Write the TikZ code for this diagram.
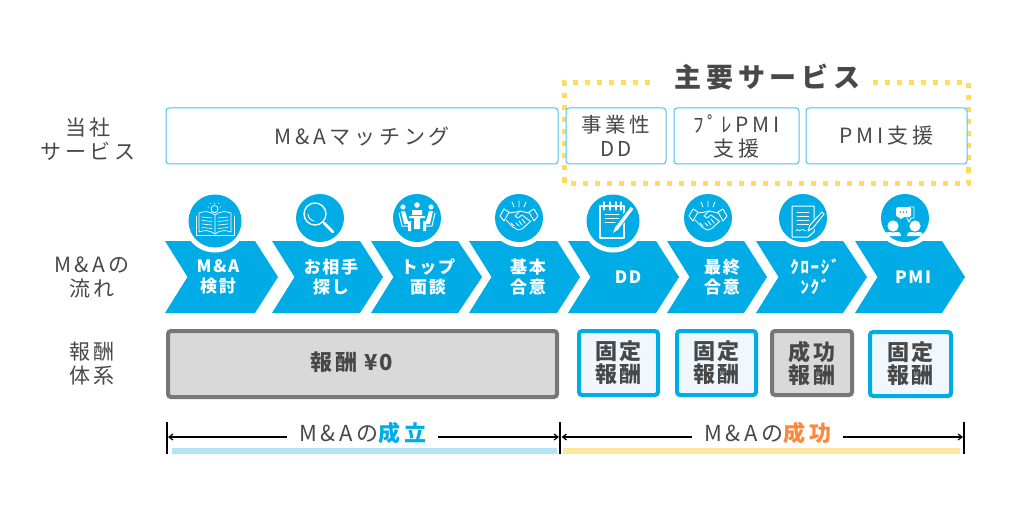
\documentclass[tikz,border=0pt]{standalone}
\usepackage{fontspec}
\usetikzlibrary{arrows.meta}
\setmainfont{Noto Sans CJK JP}
\newfontfamily\lsa[LetterSpace=10]{Noto Sans CJK JP}
\newfontfamily\lsb[LetterSpace=18]{Noto Sans CJK JP}
\definecolor{ink}{HTML}{484848}
\definecolor{skyb}{HTML}{00ACE6}
\definecolor{thin}{HTML}{4FC3EE}
\definecolor{dots}{HTML}{FFDC5A}
\definecolor{greyb}{HTML}{777777}
\definecolor{greyf}{HTML}{D9D9D9}
\definecolor{palef}{HTML}{F0F8FE}
\definecolor{lblue}{HTML}{B3E5F7}
\definecolor{lyell}{HTML}{FFE89C}
\definecolor{orng}{HTML}{F8883C}
\newcommand{\fs}[1]{\fontsize{#1}{#1}\selectfont}
\tikzset{
 x=1pt,y=-1pt,
 svc/.style={draw=thin,line width=1pt,rounded corners=3pt,fill=white,text=ink,align=center,inner sep=0pt,minimum height=56pt,font=\lsb\fs{21}},
 side/.style={text=ink,align=center,inner sep=0pt,font=\lsb\fs{21}},
 chevtxt/.style={text=white,align=center,inner sep=0pt,font=\lsa\bfseries\fs{17}},
 bluefee/.style={draw=skyb,fill=palef,line width=4pt,rounded corners=3pt,text=ink,align=center,inner sep=0pt,font=\lsa\bfseries\fs{22}},
 greyfee/.style={draw=greyb,fill=greyf,line width=4pt,rounded corners=3pt,text=ink,align=center,inner sep=0pt,font=\lsa\bfseries\fs{22}},
 dotline/.style={draw=dots,line width=5pt,dash pattern=on 5pt off 7pt},
 dimr/.style={draw=black,line width=1.2pt,-{Straight Barb[length=4pt,width=6pt]}},
 tick/.style={draw=black,line width=1.2pt},
 ico/.style={draw=white,line width=.9pt,line cap=round,line join=round},
}
\newcommand{\chev}[3]{% left, right, tip
 \fill[skyb] (#1,241) -- (#2,241) -- (#3,277) -- (#2,313) -- (#1,313) -- ({#1+22.5},277) -- cycle;}
\newcommand{\badge}[3]{% cx, cy, r
 \fill[white] (#1,#2) circle ({#3+5});
 \fill[skyb] (#1,#2) circle (#3);}
\newcommand{\handshake}{%
 \draw[ico] (-19,-2) -- (-15,-9) -- (-10,-6) -- (-15,3) -- cycle;
 \draw[ico] (19,-2) -- (15,-9) -- (10,-6) -- (15,3) -- cycle;
 \draw[ico] (-10,-5) -- (-3,-6) -- (1,-7) -- (10,-5);
 \draw[ico] (-13,2) -- (-6,9) -- (-1,12) -- (3,11) -- (12,3);
 \draw[ico] (1,-7) -- (-4,-2) -- (-1,0) -- (3,-3) -- (11,3);
 \draw[ico] (-3,5) -- (0,8) (0,3) -- (3,7) (3,1) -- (6,5) (-8,5)--(-5,8);
 \draw[ico] (0,-11) -- (0,-17) (-5,-11) -- (-7,-16) (5,-11) -- (7,-16);
}
\begin{document}
\begin{tikzpicture}
\useasboundingbox (0,0) rectangle (1024,513);
\fill[white] (0,0) rectangle (1024,513);

% dotted frame
\coordinate (fa) at (650,83); \coordinate (fb) at (564.5,83); \coordinate (fc) at (564.5,183);
\coordinate (fd) at (968.5,183); \coordinate (fe) at (968.5,83); \coordinate (ff) at (870,83);
\draw[dotline] (fa) -- (fb) -- (fc) -- (fd) -- (fe) -- (ff);
\node[inner sep=0pt,text=ink,font=\lsb\bfseries\fs{27}] (title) at (767.5,77) {主要サービス};

% services
\node[side] (s0) at (88,139) {当社\\[3pt]サービス};
\node[svc,minimum width=392pt] (s1) at (362,136) {M\&Aマッチング};
\node[svc,minimum width=100pt,font=\lsb\fs{20.5}] (s2) at (616,136) {事業性\\[3pt]DD};
\node[svc,minimum width=125pt] (s3) at (736.5,136) {ﾌﾟﾚPMI\\[3pt]支援};
\node[svc,minimum width=161pt] (s4) at (886.5,136) {PMI支援};

% chevrons
\chev{165}{255}{278}
\chev{272}{360}{383}
\chev{371}{458}{482}
\chev{469}{557}{580}
\chev{568}{656}{679}
\chev{667}{744}{767}
\chev{756}{843}{867}
\chev{855}{942}{965}

\badge{215}{221}{26.5}
\badge{320}{218}{24}
\badge{417}{218}{24}
\badge{519}{218}{24}
\badge{613}{221}{26.5}
\badge{708}{218}{24}
\badge{803}{218}{24}
\badge{905}{218}{24}

% book + bulb
\begin{scope}[shift={(215,221)}]
 \draw[ico,line width=.7pt] (0,-6) .. controls (-5,-10) and (-11,-10) .. (-16,-8) -- (-16,11) .. controls (-11,9) and (-5,9) .. (0,13) .. controls (5,9) and (11,9) .. (16,11) -- (16,-8) .. controls (11,-10) and (5,-10) .. (0,-6) -- (0,13);
 \draw[ico,line width=.7pt] (-19,-5) -- (-19,14) -- (19,14) -- (19,-5);
 \foreach \y in {-4,-0.5,3,6.5}{
  \draw[ico,line width=.6pt] (-13,\y) -- (-3,{\y+1});
  \draw[ico,line width=.6pt] (13,\y) -- (3,{\y+1});}
 \draw[ico,line width=.7pt] (-0.5,-12) circle (3.5);
 \draw[ico,line width=.7pt] (-2,-8.5) -- (1,-8.5);
 \draw[ico,line width=.6pt] (-0.5,-18) -- (-0.5,-17) (-6,-14) -- (-7,-14) (5,-14) -- (6,-14) (-5,-18) -- (-4,-17) (4,-18) -- (3,-17);
\end{scope}

% magnifier
\begin{scope}[shift={(320,218)}]
 \draw[ico,line width=1.4pt] (-5,-4) circle (11);
 \draw[ico,line width=.9pt] (-12,-4) arc (180:100:7);
 \draw[ico,line width=2.6pt] (4,5) -- (13,14);
\end{scope}

% meeting
\begin{scope}[shift={(417,218)}]
 \fill[white] (-14,-11) circle (2.6) (14,-11) circle (2.6) (0,-13) circle (2.8);
 \fill[white] (-5,-3) rectangle (5,-8) (-8,-2) rectangle (8,0) (-3,0) rectangle (3,11);
 \draw[ico,line width=1pt] (-18,-5) -- (-15,8) -- (-7,8) (18,-5) -- (15,8) -- (7,8);
 \fill[white] (-16,-7) -- (-12,-7) -- (-9,3) -- (-6,3) -- (-6,13) -- (-9,13) -- (-9,6) -- (-13,6) -- cycle;
 \fill[white] (16,-7) -- (12,-7) -- (9,3) -- (6,3) -- (6,13) -- (9,13) -- (9,6) -- (13,6) -- cycle;
\end{scope}

% handshakes
\begin{scope}[shift={(519,218)}] \handshake \end{scope}

% notepad + pencil
\begin{scope}[shift={(613,221)}]
 \draw[ico,line width=1.1pt] (-13,-15) rectangle (11,17);
 \foreach \x in {-9,-3,3,8}{\draw[ico,line width=1.1pt] (\x,-19) -- (\x,-11);}
 \draw[ico,line width=.9pt] (-8,-7) -- (6,-7) (-8,-3) -- (6,-3) (-8,1) -- (2,1);
 \draw[skyb,line width=6pt,line cap=round] (18,-12) -- (1,10);
 \draw[white,line width=3.4pt] (19,-13) -- (4,7);
 \fill[white] (2.5,5.5) -- (5.8,8) -- (0,12) -- cycle;
\end{scope}

% handshake 2
\begin{scope}[shift={(708,218)}] \handshake \end{scope}

% document + pen
\begin{scope}[shift={(803,218)}]
 \draw[ico,line width=1pt] (-11,-12) -- (11,-12) -- (11,14) -- (5,19) -- (-11,19) -- cycle;
 \draw[ico,line width=.9pt] (-6,-6) -- (6,-6) (-6,-2) -- (6,-2) (-6,2) -- (6,2) (-6,6) -- (6,6);
 \draw[ico,line width=.7pt] (-7,13) .. controls (-5,9) and (-4,15) .. (-2,12) .. controls (0,10) and (1,14) .. (4,12);
 \draw[skyb,line width=6.5pt,line cap=round] (19,-3) -- (6,12);
 \draw[ico,line width=1pt] (19,-6) -- (21,-4) -- (10,10) -- (5,13) -- (7,7) -- cycle;
\end{scope}

% PMI people + bubble
\begin{scope}[shift={(905,218)}]
 \draw[ico,line width=.9pt] (4,-11) -- (9,-11) -- (9,0) -- (6,0) -- (4,4) -- (2,0);
 \fill[white] (-9,-11) [rounded corners=1.5pt] -- (6,-11) -- (6,-1) -- (-2,-1) -- (-5,2) -- (-5,-1) -- (-9,-1) -- cycle;
 \fill[skyb] (-4.5,-6) circle (.9) (-1.5,-6) circle (.9) (1.5,-6) circle (.9);
 \fill[white] (-12,8) circle (5.6) (10,8) circle (5.6);
 \fill[white] (-20,18) .. controls (-20,12) and (-15,14.5) .. (-12,14.5) .. controls (-9,14.5) and (-4,12) .. (-4,18) -- cycle;
 \fill[white] (2,18) .. controls (2,12) and (7,14.5) .. (10,14.5) .. controls (13,14.5) and (18,12) .. (18,18) -- cycle;
\end{scope}

% chevron labels
\node[side] (f0) at (92,277) {M\,\&\,Aの\\[3pt]流れ};
\node[chevtxt] (c1) at (218,277) {M\&A\\[3pt]検討};
\node[chevtxt] (c2) at (331,277) {お相手\\[3pt]探し};
\node[chevtxt] (c3) at (428,277) {トップ\\[3pt]面談};
\node[chevtxt] (c4) at (528,277) {基本\\[3pt]合意};
\node[chevtxt] (c5) at (628,277) {DD};
\node[chevtxt] (c6) at (722,277) {最終\\[3pt]合意};
\node[chevtxt] (c7) at (815,277) {ｸﾛｰｼﾞ\\[3pt]ﾝｸﾞ};
\node[chevtxt] (c8) at (913,277) {PMI};

% fees
\node[side] (p0) at (92,364) {報酬\\[3pt]体系};
\node[greyfee,minimum width=389pt,minimum height=66pt] (p1) at (362.5,364) {};
\node[text=ink,inner sep=0pt,font=\lsa\bfseries\fs{22}] (p1t) at (352,362) {報酬\hspace{7pt}¥0};
\node[bluefee,minimum width=79pt,minimum height=64pt] (p2) at (618.5,363) {固定\\[1pt]報酬};
\node[bluefee,minimum width=79pt,minimum height=64pt] (p3) at (716.5,363) {固定\\[1pt]報酬};
\node[greyfee,minimum width=80pt,minimum height=64pt] (p4) at (812,363) {成功\\[1pt]報酬};
\node[bluefee,minimum width=81pt,minimum height=64pt] (p5) at (910.5,364) {固定\\[1pt]報酬};

% bars
\fill[lblue] (172,448) rectangle (557,454);
\fill[lyell] (563,448) rectangle (960,454);

% dimension lines
\coordinate (t1) at (167,422); \coordinate (b1) at (167,454);
\coordinate (t2) at (560,422); \coordinate (b2) at (560,454);
\coordinate (t3) at (964,422); \coordinate (b3) at (964,454);
\draw[tick] (t1) -- (b1);
\draw[tick] (t2) -- (b2);
\draw[tick] (t3) -- (b3);
\coordinate (a1) at (168,437); \coordinate (a2) at (559,437);
\coordinate (a3) at (561.5,437); \coordinate (a4) at (963,437);
\node[text=ink,inner sep=0pt,anchor=center,font=\lsb\fs{22}] (d1) at (363,433) {M\,\&\,Aの\textcolor{skyb}{\bfseries 成立}};
\node[text=ink,inner sep=0pt,anchor=center,font=\lsb\fs{22}] (d2) at (768,433) {M\,\&\,Aの\textcolor{orng}{\bfseries 成功}};
\coordinate (l1) at (287,437); \coordinate (l2) at (438,437);
\coordinate (l3) at (692,437); \coordinate (l4) at (843,437);
\draw[dimr] (l1) -- (a1);
\draw[dimr] (l2) -- (a2);
\draw[dimr] (l3) -- (a3);
\draw[dimr] (l4) -- (a4);
\end{tikzpicture}
\end{document}
